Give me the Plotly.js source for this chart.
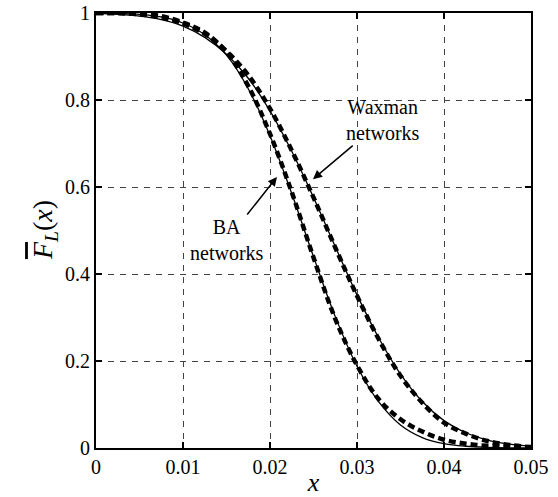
<!DOCTYPE html>
<html>
<head>
<meta charset="utf-8">
<script src="https://cdn.plot.ly/plotly-3.0.1.min.js"></script>
<style>html,body{margin:0;padding:0;background:#fff;}#chart{width:558px;height:497px;}</style>
</head>
<body>
<div id="chart"></div>
<script>
// x positions
var xVals = [0, 0.0025, 0.005, 0.0075, 0.01, 0.0125, 0.015, 0.0175, 0.02, 0.0225, 0.025,
             0.0275, 0.03, 0.0325, 0.035, 0.0375, 0.04, 0.0425, 0.045, 0.0475, 0.05];
// theoretical (solid) curves
var baFit  = [1.000, 0.999, 0.997, 0.991, 0.977, 0.950, 0.903, 0.826, 0.718, 0.585, 0.440,
              0.302, 0.188, 0.106, 0.053, 0.024, 0.010, 0.004, 0.0015, 0.0005, 0.0002];
var waxFit = [0.999, 0.997, 0.993, 0.985, 0.970, 0.944, 0.905, 0.850, 0.775, 0.682, 0.576,
              0.463, 0.352, 0.253, 0.170, 0.107, 0.063, 0.035, 0.018, 0.009, 0.004];
// simulated (thick dashed) curves
var baData  = [1.000, 1.000, 0.998, 0.993, 0.978, 0.955, 0.910, 0.832, 0.722, 0.588, 0.438,
               0.297, 0.190, 0.112, 0.066, 0.038, 0.019, 0.010, 0.005, 0.003, 0.001];
var waxData = [1.000, 1.000, 0.997, 0.990, 0.976, 0.952, 0.912, 0.857, 0.780, 0.684, 0.576,
               0.461, 0.350, 0.250, 0.166, 0.104, 0.058, 0.033, 0.016, 0.007, 0.002];
var xTicks = [0, 0.01, 0.02, 0.03, 0.04, 0.05];
var xTickText = ['0', '0.01', '0.02', '0.03', '0.04', '0.05'];
var yTicks = [0, 0.2, 0.4, 0.6, 0.8, 1];
var yTickText = ['0', '0.2', '0.4', '0.6', '0.8', '1'];

var font = 'Liberation Serif';

var traces = [
  {x: xVals, y: baData, mode: 'lines', line: {color: '#000', width: 4.5, dash: '7px,4px', shape: 'spline'}, hoverinfo: 'skip'},
  {x: xVals, y: waxData, mode: 'lines', line: {color: '#000', width: 4.5, dash: '7px,4px', shape: 'spline'}, hoverinfo: 'skip'},
  {x: xVals, y: baFit, mode: 'lines', line: {color: '#000', width: 1.3, shape: 'spline'}, hoverinfo: 'skip'},
  {x: xVals, y: waxFit, mode: 'lines', line: {color: '#000', width: 1.3, shape: 'spline'}, hoverinfo: 'skip'}
];

var axisCommon = {
  showline: true, linecolor: '#000', linewidth: 2, mirror: 'allticks',
  ticks: 'inside', ticklen: 6, tickwidth: 1.5, tickcolor: '#000',
  showgrid: true, gridcolor: '#444', gridwidth: 1, griddash: '6px,6px',
  zeroline: false, tickfont: {family: font, size: 20, color: '#000'}
};

var layout = {
  width: 558, height: 497,
  margin: {l: 96, r: 27, t: 13, b: 49},
  paper_bgcolor: '#fff', plot_bgcolor: '#fff',
  showlegend: false,
  font: {family: font, color: '#000'},
  xaxis: Object.assign({}, axisCommon, {range: [0, 0.05], tickvals: xTicks, ticktext: xTickText,
    title: {text: '<i>x</i>', font: {family: font, size: 26, color: '#000'}, standoff: 4}}),
  yaxis: Object.assign({}, axisCommon, {range: [0, 1], tickvals: yTicks, ticktext: yTickText}),
  annotations: [
    {xref: 'paper', yref: 'paper', x: -0.163, y: 0.5, textangle: -90, showarrow: false,
     text: '<i><span style="text-decoration:overline">F</span></i><sub><i>L</i></sub>(<i>x</i>)',
     font: {family: font, size: 28, color: '#000'}},
    {x: 0.02494, y: 0.618, xref: 'x', yref: 'y', text: 'Waxman<br>networks', showarrow: true,
     arrowhead: 2, arrowsize: 1.2, arrowwidth: 1.5, arrowcolor: '#000', ax: 70, ay: -59,
     font: {family: font, size: 20, color: '#000'}},
    {x: 0.0208, y: 0.623, xref: 'x', yref: 'y', text: 'BA<br>networks', showarrow: true,
     arrowhead: 2, arrowsize: 1.2, arrowwidth: 1.5, arrowcolor: '#000', ax: -50, ay: 63,
     font: {family: font, size: 20, color: '#000'}}
  ]
};

Plotly.newPlot('chart', traces, layout, {displayModeBar: false, staticPlot: true});
</script>
</body>
</html>
